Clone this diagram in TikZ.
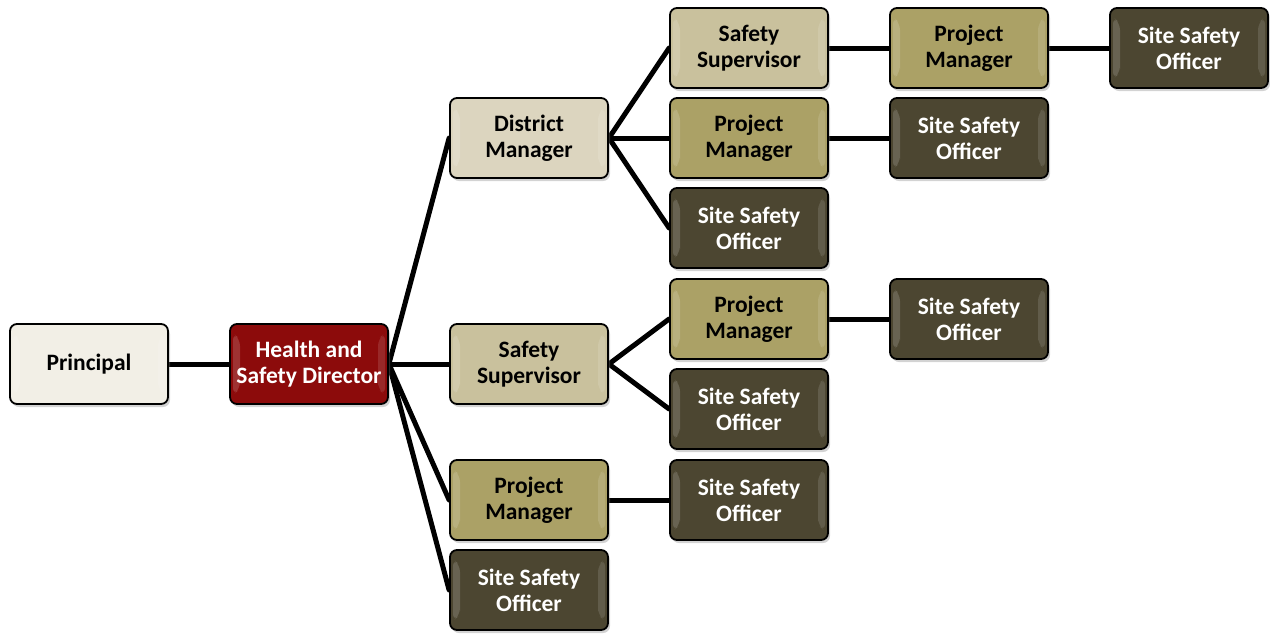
\documentclass[tikz,border=0pt]{standalone}
\usepackage{fontspec}
\setmainfont{Carlito}
\usepackage{tikz}
\usetikzlibrary{backgrounds}
\usetikzlibrary{positioning, calc, shadows}
\definecolor{principalFill}{HTML}{F2EFE6}
\definecolor{directorFill}{HTML}{8C0B0B}
\definecolor{districtFill}{HTML}{DCD5BF}
\definecolor{supervisorFill}{HTML}{C9C19D}
\definecolor{managerFill}{HTML}{ABA166}
\definecolor{officerFill}{HTML}{4C4631}
\tikzset{orgbox/.style={draw=black, line width=1.8pt, rounded corners=7pt, minimum width=158pt, minimum height=80pt, align=center, font=\bfseries\fontsize{23.5}{26}\selectfont, drop shadow={shadow xshift=2pt, shadow yshift=-3pt, opacity=.35},
  path picture={
    \fill[white, opacity=.16] ($(path picture bounding box.north west)+(3pt,-9pt)$) -- ++(7pt,-6pt) |- ($(path picture bounding box.south west)+(10pt,15pt)$) -- ++(-7pt,-6pt) -- cycle;
    \fill[white, opacity=.12] ($(path picture bounding box.north east)+(-3pt,-9pt)$) -- ++(-7pt,-6pt) |- ($(path picture bounding box.south east)+(-10pt,15pt)$) -- ++(7pt,-6pt) -- cycle;
  }}}
\tikzset{principal/.style={orgbox, fill=principalFill, text=black}}
\tikzset{director/.style={orgbox, fill=directorFill, text=white}}
\tikzset{district/.style={orgbox, fill=districtFill, text=black}}
\tikzset{supervisor/.style={orgbox, fill=supervisorFill, text=black}}
\tikzset{manager/.style={orgbox, fill=managerFill, text=black}}
\tikzset{officer/.style={orgbox, fill=officerFill, text=white}}
\tikzset{link/.style={line width=5pt, line cap=round}}
\begin{document}
\begin{tikzpicture}[x=1pt, y=-1pt]

      \useasboundingbox (0,0) rectangle (1270,633);

      % BOXES

      \node[principal] (princ) at (89,364) {Principal};
      \node[director] (hsd) at (309,364) {Health and\\Safety Director};

      \node[district] (dist) at (529,138) {District\\Manager};
      \node[supervisor] (supA) at (529,364) {Safety\\Supervisor};
      \node[manager] (pmA) at (529,500) {Project\\Manager};
      \node[officer] (ssoA) at (529,590) {Site Safety\\Officer};

      \node[supervisor] (supB) at (749,48) {Safety\\Supervisor};
      \node[manager] (pmB) at (749,138) {Project\\Manager};
      \node[officer] (ssoB) at (749,228) {Site Safety\\Officer};
      \node[manager] (pmC) at (749,319) {Project\\Manager};
      \node[officer] (ssoC) at (749,409) {Site Safety\\Officer};
      \node[officer] (ssoD) at (749,500) {Site Safety\\Officer};

      \node[manager] (pmD) at (969,48) {Project\\Manager};
      \node[officer] (ssoE) at (969,138) {Site Safety\\Officer};
      \node[officer] (ssoF) at (969,319) {Site Safety\\Officer};

      \node[officer] (ssoG) at (1189,48) {Site Safety\\Officer};

      % LINES

      \begin{scope}[on background layer]
      \draw[link] (princ.east) -- (hsd.west);
      \foreach \child in {dist, supA, pmA, ssoA}
        \draw[link] (hsd.east) -- (\child.west);
      \foreach \child in {supB, pmB, ssoB}
        \draw[link] (dist.east) -- (\child.west);
      \foreach \child in {pmC, ssoC}
        \draw[link] (supA.east) -- (\child.west);
      \draw[link] (pmA.east) -- (ssoD.west);
      \draw[link] (supB.east) -- (pmD.west);
      \draw[link] (pmD.east) -- (ssoG.west);
      \draw[link] (pmB.east) -- (ssoE.west);
      \draw[link] (pmC.east) -- (ssoF.west);
      \end{scope}

    \end{tikzpicture}
\end{document}
